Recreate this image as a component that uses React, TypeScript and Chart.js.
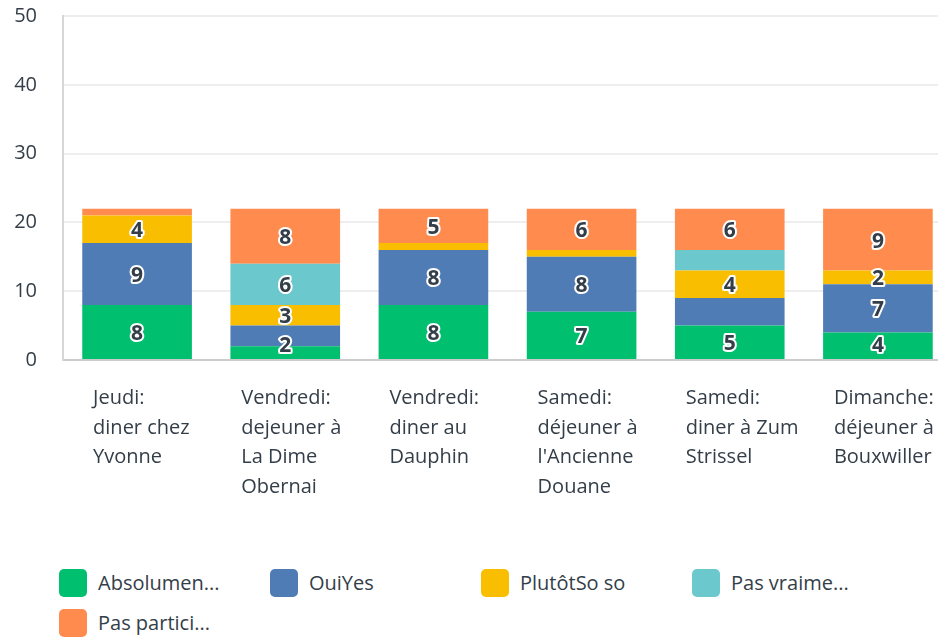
import React, { useEffect, useRef } from 'react';
import { Chart, registerables } from 'chart.js';

Chart.register(...registerables);

const categories: string[][] = [
  ['Jeudi:', 'diner chez', 'Yvonne'],
  ['Vendredi:', 'dejeuner à', 'La Dime', 'Obernai'],
  ['Vendredi:', 'diner au', 'Dauphin'],
  ['Samedi:', 'déjeuner à', "l'Ancienne", 'Douane'],
  ['Samedi:', 'diner à Zum', 'Strissel'],
  ['Dimanche:', 'déjeuner à', 'Bouxwiller'],
];

const seriesNames = ['Absolumen...', 'OuiYes', 'PlutôtSo so', 'Pas vraime...', 'Pas partici...'];
const seriesColors = ['#00BF6F', '#507CB6', '#F9BE00', '#6BC8CD', '#FF8B4F'];

const absolument = [8, 2, 8, 7, 5, 4];
const ouiYes = [9, 3, 8, 8, 4, 7];
const plutotSoSo = [4, 3, 1, 1, 4, 2];
const pasVraiment = [0, 6, 0, 0, 3, 0];
const pasParticulierement = [1, 8, 5, 6, 6, 9];

// which value labels are printed on the segments
const absolumentShown = [true, true, true, true, true, true];
const ouiYesShown = [true, false, true, true, false, true];
const plutotSoSoShown = [true, true, false, false, true, true];
const pasVraimentShown = [false, true, false, false, false, false];
const pasParticulierementShown = [false, true, true, true, true, true];

const yMin = 0;
const yMax = 50;
const yStep = 10;

const FONT = '"Open Sans", Roboto, sans-serif';
const TEXT = '#333E48';

const seriesValues = [absolument, ouiYes, plutotSoSo, pasVraiment, pasParticulierement];
const seriesShown = [absolumentShown, ouiYesShown, plutotSoSoShown, pasVraimentShown, pasParticulierementShown];

const segmentLabels = {
  id: 'segmentLabels',
  afterDatasetsDraw(chart: any) {
    const ctx = chart.ctx;
    const area = chart.chartArea;
    ctx.save();
    ctx.font = `bold 21px ${FONT}`;
    ctx.textAlign = 'center';
    ctx.textBaseline = 'middle';
    ctx.lineJoin = 'round';
    chart.data.datasets.forEach((ds: any, di: number) => {
      const meta = chart.getDatasetMeta(di);
      meta.data.forEach((el: any, i: number) => {
        if (!seriesShown[di][i] || !ds.data[i]) return;
        const { x, y, base } = el.getProps(['x', 'y', 'base'], true);
        let cy = (y + base) / 2 + 2;
        cy = Math.min(cy, area.bottom - 14);
        const t = String(ds.data[i]);
        ctx.lineWidth = 4;
        ctx.strokeStyle = '#ffffff';
        ctx.strokeText(t, x, cy);
        ctx.fillStyle = TEXT;
        ctx.fillText(t, x, cy);
      });
    });
    ctx.restore();
  },
};

export default function App() {
  const ref = useRef<HTMLCanvasElement | null>(null);

  useEffect(() => {
    if (!ref.current) return;
    const chart = new Chart(ref.current, {
      type: 'bar',
      data: {
        labels: categories,
        datasets: seriesValues.map((vals, i) => ({
          label: seriesNames[i],
          data: vals,
          backgroundColor: seriesColors[i],
          borderWidth: 0,
          categoryPercentage: 1,
          barPercentage: 0.74,
        })),
      },
      options: {
        animation: false,
        responsive: false,
        devicePixelRatio: 1,
        layout: { padding: { top: 16, left: 0, right: 0, bottom: 0 } },
        plugins: {
          legend: { display: false },
          tooltip: { enabled: false },
        },
        scales: {
          x: {
            stacked: true,
            grid: { display: false, drawTicks: false },
            border: { display: true, color: '#CCCCCC', width: 2 },
            ticks: {
              color: TEXT,
              font: { family: FONT, size: 20, lineHeight: 1.47 },
              align: 'start',
              labelOffset: -44,
              padding: 24,
              maxRotation: 0,
              autoSkip: false,
            },
            afterFit: (s: any) => {
              s.height = 185;
              s.paddingLeft = 0;
              s.paddingRight = 0;
              s.paddingTop = 0;
              s.paddingBottom = 0;
            },
          },
          y: {
            stacked: true,
            min: yMin,
            max: yMax,
            grid: { color: '#EEEEEE', lineWidth: 2, drawTicks: false },
            border: { display: true, color: '#D6D6D6', width: 2 },
            ticks: {
              stepSize: yStep,
              color: TEXT,
              font: { family: FONT, size: 20 },
              padding: 26,
            },
            afterFit: (s: any) => {
              s.width = 63;
              s.paddingTop = 0;
              s.paddingBottom = 0;
              s.paddingLeft = 0;
              s.paddingRight = 0;
            },
          },
        },
      },
      plugins: [segmentLabels],
    });
    return () => chart.destroy();
  }, []);

  return (
    <div
      style={{
        position: 'fixed',
        left: 0,
        top: 0,
        width: 938,
        height: 639,
        overflow: 'hidden',
        background: '#fff',
      }}
    >
      <canvas ref={ref} width={952} height={545} style={{ position: 'absolute', left: 0, top: 0, width: 952, height: 545 }} />
      <div
        style={{
          position: 'absolute',
          left: 59,
          top: 569,
          width: 880,
          display: 'flex',
          flexWrap: 'wrap',
          fontFamily: FONT,
          fontSize: 20,
          color: TEXT,
        }}
      >
        {seriesNames.map((n, i) => (
          <div key={n} style={{ width: 211, height: 40, display: 'flex', alignItems: 'flex-start' }}>
            <span
              style={{
                display: 'inline-block',
                width: 28,
                height: 28,
                borderRadius: 5,
                background: seriesColors[i],
                marginRight: 11,
                flex: 'none',
              }}
            />
            <span style={{ lineHeight: '28px', whiteSpace: 'nowrap' }}>{n}</span>
          </div>
        ))}
      </div>
    </div>
  );
}
